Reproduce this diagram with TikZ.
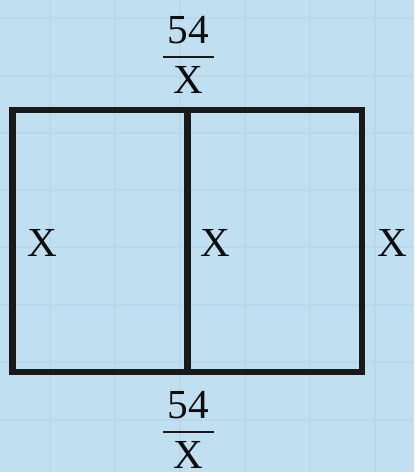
\documentclass[tikz,border=0pt]{standalone}
\usepackage{fontspec}
\setmainfont{Liberation Serif}
\usepackage{tikz}
\usetikzlibrary{positioning}
\definecolor{paper}{RGB}{192,223,241}
\definecolor{gridblue}{RGB}{184,216,236}

\begin{document}
\begin{tikzpicture}[
    x=0.02cm, y=-0.02cm,
    font=\fontsize{23.5}{28}\selectfont,
    wall/.style={
		line width=0.135cm,
		draw=black!90
	},
	gridline/.style={
		line width=0.045cm,
		draw=gridblue
	},
	fracbar/.style={
		line width=0.05cm,
		draw=black!90
	},
	lbl/.style={
		inner sep=0pt,
		text=black!95
	}
  ]
    % paper with faint squares
  \fill [paper] (0,0) rectangle (414,472);
  \useasboundingbox (0,0) rectangle (414,472);
  \foreach \gx in {50,115,180,245,310,375}
    \draw [gridline] (\gx,0) -- (\gx,472);
  \foreach \gy in {18,76,133,190,247,305,362,420}
    \draw [gridline] (0,\gy) -- (414,\gy);

    % the box and its middle wall
  \coordinate (nw) at (12.5,110);
  \coordinate (se) at (362,372);
  \coordinate (midtop) at (187.5,110);
  \coordinate (midbot) at (187.5,372);
  \draw [wall] (nw) rectangle (se);
  \draw [wall] (midtop) -- (midbot);

    % top length
  \node [lbl] (topnum) at (188,30) {54};
  \node [lbl] (topden) at (188,80) {X};
  \coordinate (topbarl) at (163,57);
  \coordinate (topbarr) at (214,57);
  \draw [fracbar] (topbarl) -- (topbarr);

    % bottom length
  \node [lbl] (botnum) at (188,405) {54};
  \node [lbl] (botden) at (188,455) {X};
  \coordinate (botbarl) at (163,432);
  \coordinate (botbarr) at (214,432);
  \draw [fracbar] (botbarl) -- (botbarr);

    % widths
  \node [lbl] (leftx) at (42,243) {X};
  \node [lbl] (midx) at (215,243) {X};
  \node [lbl] (rightx) at (392,243) {X};

\end{tikzpicture}
\end{document}
